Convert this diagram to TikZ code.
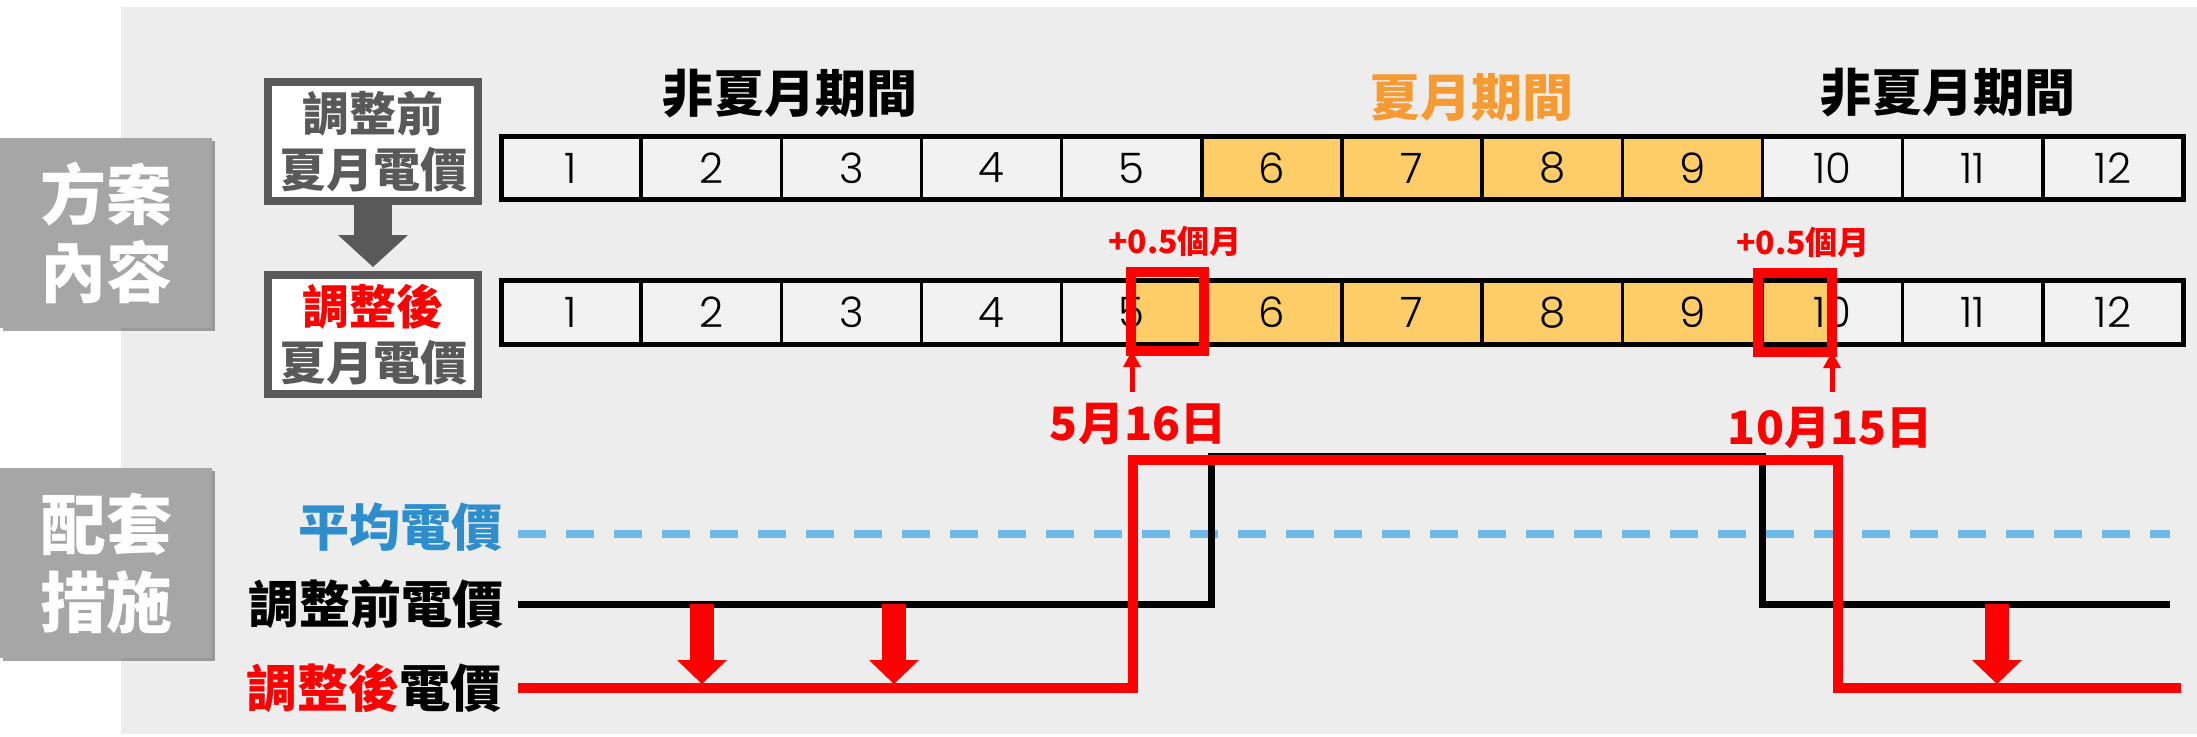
\documentclass[tikz,border=0pt]{standalone}
\usepackage{fontspec}
\setmainfont{Noto Sans CJK TC}
\newfontfamily\numfont{Poppins Light}
\usetikzlibrary{arrows.meta,shadows}
\definecolor{bgc}{HTML}{EDEDED}
\definecolor{cellc}{HTML}{F2F2F2}
\definecolor{sidegray}{HTML}{A6A6A6}
\definecolor{dgray}{HTML}{595959}
\definecolor{summer}{HTML}{FFCD67}
\definecolor{orangeT}{HTML}{F59B32}
\definecolor{avgblue}{HTML}{2E8DCC}
\definecolor{dashblue}{HTML}{6EB9E6}
\definecolor{pured}{HTML}{FF0000}
\tikzset{
  sidebox/.style={fill=sidegray, text=white, align=center, inner sep=0pt, outer sep=0pt,
    minimum width=212pt, minimum height=190pt,
    font=\bfseries\fontsize{66}{78}\selectfont,
    drop shadow={shadow xshift=3pt, shadow yshift=-3pt, opacity=.35, fill=black}},
  pricebox/.style={draw=dgray, line width=8pt, fill=white, text=dgray, align=center,
    inner sep=0pt, outer sep=0pt, minimum width=210pt, minimum height=119pt,
    font=\bfseries\fontsize{47}{56}\selectfont},
  grayarrow/.style={draw=dgray, line width=38pt, -{Triangle[width=70pt,length=32pt,line width=0pt]}},
  cell/.style={draw=black, line width=3.5pt, minimum width=140.17pt, minimum height=63.5pt,
    inner sep=0pt, outer sep=0pt, font=\numfont\fontsize{42}{42}\selectfont},
  plain/.style={fill=cellc},
  hot/.style={fill=summer},
  halfR/.style={fill=cellc, path picture={\fill[summer] (path picture bounding box.north) rectangle (path picture bounding box.south east);}},
  halfL/.style={fill=cellc, path picture={\fill[summer] (path picture bounding box.north west) rectangle (path picture bounding box.south);}},
  rowframe/.style={draw=black, line width=5pt},
  redbox/.style={draw=pured, line width=10pt, inner sep=0pt, outer sep=0pt},
  plus/.style={text=pured, inner sep=0pt, font=\bfseries\fontsize{32}{32}\selectfont},
  datel/.style={text=pured, inner sep=0pt, font=\bfseries\fontsize{46}{46}\selectfont},
  head/.style={inner sep=0pt, font=\bfseries\fontsize{51}{51}\selectfont},
  lbl/.style={inner sep=0pt, anchor=east, font=\bfseries\fontsize{51}{51}\selectfont},
  uparrow/.style={draw=pured, line width=5pt, -{Triangle[width=18pt,length=16pt,line width=0pt]}},
  downarrow/.style={draw=pured, line width=24pt, -{Triangle[width=50pt,length=24pt,line width=0pt]}},
  blackline/.style={draw=black, line width=7pt},
  redline/.style={draw=pured, line width=10pt},
  avgline/.style={draw=dashblue, line width=8pt, dash pattern=on 28pt off 20pt},
}
\begin{document}
\begin{tikzpicture}[x=1pt,y=-1pt]
\useasboundingbox (0,0) rectangle (2197,736);
\fill[bgc] (121,7) rectangle (2197,734);

% side labels
\node[sidebox] (plan) at (106,233) {方案\\內容};
\node[sidebox] (meas) at (106,563) {配套\\措施};

% price boxes
\node[pricebox] (before) at (373,141.5) {調整前\\夏月電價};
\node[pricebox] (after) at (373,334.5) {{\color{pured}調整後}\\夏月電價};
\draw[grayarrow] (before.south) -- ([yshift=8pt]after.north);

% headings
\node[head] (h1) at (790,94) {非夏月期間};
\node[head, text=orangeT] (h2) at (1471,97) {夏月期間};
\node[head] (h3) at (1948,93) {非夏月期間};

% month rows
\foreach \i/\fc in {1/plain,2/plain,3/plain,4/plain,5/plain,6/hot,7/hot,8/hot,9/hot,10/plain,11/plain,12/plain}{
  \pgfmathsetmacro\cx{501+140.17*(\i-0.5)}
  \node[cell, \fc] (a\i) at (\cx,168) {\i};
}
\draw[rowframe] (a1.north west) rectangle (a12.south east);

\foreach \i/\fc in {1/plain,2/plain,3/plain,4/plain,5/halfR,6/hot,7/hot,8/hot,9/hot,10/halfL,11/plain,12/plain}{
  \pgfmathsetmacro\cx{501+140.17*(\i-0.5)}
  \node[cell, \fc] (b\i) at (\cx,312.5) {\i};
}
\draw[rowframe] (b1.north west) rectangle (b12.south east);

% red boxes
\node[redbox, minimum width=73pt, minimum height=79pt] (rb5) at (1167.5,311.5) {};
\node[redbox, minimum width=74.5pt, minimum height=79pt] (rb10) at (1794.75,312.5) {};
\node[plus] (p5) at (1175,241) {+0.5個月};
\node[plus] (p10) at (1803,242) {+0.5個月};

% dates and arrows
\node[datel] (d5) at (1138,424) {5月16日};
\node[datel] (d10) at (1830,428) {10月15日};
\coordinate (u5) at (1132,392);
\coordinate (u10) at (1832,392);
\draw[uparrow] (u5) -- (u5 |- rb5.south);
\draw[uparrow] (u10) -- (u10 |- rb10.south);

% lower labels
\node[lbl, text=avgblue] (lavg) at (503,527) {平均電價};
\node[lbl] (lbef) at (504,604) {調整前電價};
\node[lbl] (laft) at (502,688) {{\color{pured}調整後}電價};

% average line
\coordinate (m0) at (518,534);
\coordinate (m1) at (2170,534);
\draw[avgline] (m0) -- (m1);

% before line
\coordinate (k0) at (518,604);
\coordinate (k1) at (1211,456);
\coordinate (k2) at (1762,604);
\coordinate (k3) at (2170,604);
\draw[blackline] (k0) -| (k1) -| (k2) -- (k3);

% after line
\coordinate (r0) at (518,688);
\coordinate (r1) at (1133,460);
\coordinate (r2) at (1838,688);
\coordinate (r3) at (2181,688);
\draw[redline] (r0) -| (r1) -| (r2) -- (r3);

% down arrows
\coordinate (s1) at (702,604);  \coordinate (e1) at (702,684);
\coordinate (s2) at (894,604);  \coordinate (e2) at (894,684);
\coordinate (s3) at (1997,604); \coordinate (e3) at (1997,684);
\draw[downarrow] (s1) -- (e1);
\draw[downarrow] (s2) -- (e2);
\draw[downarrow] (s3) -- (e3);
\end{tikzpicture}
\end{document}
